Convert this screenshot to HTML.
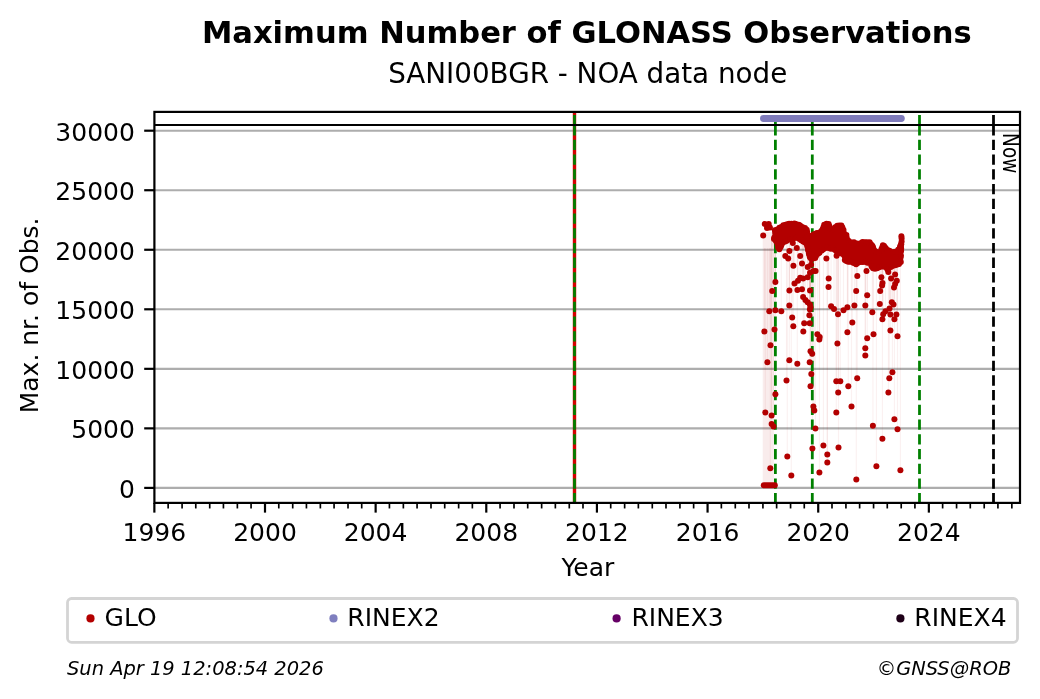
<!DOCTYPE html>
<html><head><meta charset="utf-8"><title>Maximum Number of GLONASS Observations</title>
<style>html,body{margin:0;padding:0;background:#fff;width:1040px;height:699px;overflow:hidden}svg{display:block;will-change:transform}</style>
</head><body>
<svg width="1040" height="699" viewBox="0 0 1040 699">
<rect x="0" y="0" width="1040" height="699" fill="#ffffff"/>
<defs><clipPath id="ax"><rect x="154.4" y="111.9" width="865.6" height="391.0"/></clipPath></defs>
<line x1="154.4" y1="487.90" x2="1020.0" y2="487.90" stroke="#adadad" stroke-width="2.1"/>
<line x1="154.4" y1="428.37" x2="1020.0" y2="428.37" stroke="#adadad" stroke-width="2.1"/>
<line x1="154.4" y1="368.83" x2="1020.0" y2="368.83" stroke="#adadad" stroke-width="2.1"/>
<line x1="154.4" y1="309.29" x2="1020.0" y2="309.29" stroke="#adadad" stroke-width="2.1"/>
<line x1="154.4" y1="249.76" x2="1020.0" y2="249.76" stroke="#adadad" stroke-width="2.1"/>
<line x1="154.4" y1="190.23" x2="1020.0" y2="190.23" stroke="#adadad" stroke-width="2.1"/>
<line x1="154.4" y1="130.69" x2="1020.0" y2="130.69" stroke="#adadad" stroke-width="2.1"/>
<g clip-path="url(#ax)">
<line x1="793.4" y1="239.6" x2="793.4" y2="265.8" stroke="#b30000" stroke-opacity="0.055" stroke-width="1.2"/>
<line x1="802" y1="242.1" x2="802" y2="263.5" stroke="#b30000" stroke-opacity="0.055" stroke-width="1.2"/>
<line x1="807.7" y1="259.2" x2="807.7" y2="267" stroke="#b30000" stroke-opacity="0.055" stroke-width="1.2"/>
<line x1="810" y1="259.8" x2="810" y2="272.7" stroke="#b30000" stroke-opacity="0.055" stroke-width="1.2"/>
<line x1="813.4" y1="259.9" x2="813.4" y2="271" stroke="#b30000" stroke-opacity="0.055" stroke-width="1.2"/>
<line x1="800.2" y1="241.2" x2="800.2" y2="277.8" stroke="#b30000" stroke-opacity="0.055" stroke-width="1.2"/>
<line x1="803.1" y1="242.6" x2="803.1" y2="278.4" stroke="#b30000" stroke-opacity="0.055" stroke-width="1.2"/>
<line x1="807.7" y1="259.2" x2="807.7" y2="277.3" stroke="#b30000" stroke-opacity="0.055" stroke-width="1.2"/>
<line x1="798" y1="239.8" x2="798" y2="280.7" stroke="#b30000" stroke-opacity="0.055" stroke-width="1.2"/>
<line x1="794.5" y1="239.2" x2="794.5" y2="283.6" stroke="#b30000" stroke-opacity="0.055" stroke-width="1.2"/>
<line x1="775.4" y1="246.8" x2="775.4" y2="282.1" stroke="#b30000" stroke-opacity="0.055" stroke-width="1.2"/>
<line x1="772.2" y1="239.8" x2="772.2" y2="291" stroke="#b30000" stroke-opacity="0.055" stroke-width="1.2"/>
<line x1="789.4" y1="239.8" x2="789.4" y2="290.4" stroke="#b30000" stroke-opacity="0.055" stroke-width="1.2"/>
<line x1="797.4" y1="239.4" x2="797.4" y2="289.9" stroke="#b30000" stroke-opacity="0.055" stroke-width="1.2"/>
<line x1="802" y1="242.1" x2="802" y2="289.3" stroke="#b30000" stroke-opacity="0.055" stroke-width="1.2"/>
<line x1="810" y1="259.8" x2="810" y2="290.4" stroke="#b30000" stroke-opacity="0.055" stroke-width="1.2"/>
<line x1="815.6" y1="258.6" x2="815.6" y2="270.9" stroke="#b30000" stroke-opacity="0.055" stroke-width="1.2"/>
<line x1="828.7" y1="248.9" x2="828.7" y2="278.4" stroke="#b30000" stroke-opacity="0.055" stroke-width="1.2"/>
<line x1="828.5" y1="248.7" x2="828.5" y2="287.0" stroke="#b30000" stroke-opacity="0.055" stroke-width="1.2"/>
<line x1="857.3" y1="265.2" x2="857.3" y2="276.1" stroke="#b30000" stroke-opacity="0.055" stroke-width="1.2"/>
<line x1="866.5" y1="263.2" x2="866.5" y2="270.9" stroke="#b30000" stroke-opacity="0.055" stroke-width="1.2"/>
<line x1="881.4" y1="267.8" x2="881.4" y2="277.2" stroke="#b30000" stroke-opacity="0.055" stroke-width="1.2"/>
<line x1="882.5" y1="267.5" x2="882.5" y2="283.0" stroke="#b30000" stroke-opacity="0.055" stroke-width="1.2"/>
<line x1="895.1" y1="266.1" x2="895.1" y2="274.4" stroke="#b30000" stroke-opacity="0.055" stroke-width="1.2"/>
<line x1="891.1" y1="268.3" x2="891.1" y2="278.4" stroke="#b30000" stroke-opacity="0.055" stroke-width="1.2"/>
<line x1="896.8" y1="265.7" x2="896.8" y2="280.7" stroke="#b30000" stroke-opacity="0.055" stroke-width="1.2"/>
<line x1="895.1" y1="266.1" x2="895.1" y2="284.1" stroke="#b30000" stroke-opacity="0.055" stroke-width="1.2"/>
<line x1="894.0" y1="266.6" x2="894.0" y2="287.5" stroke="#b30000" stroke-opacity="0.055" stroke-width="1.2"/>
<line x1="856.2" y1="266.5" x2="856.2" y2="291.0" stroke="#b30000" stroke-opacity="0.055" stroke-width="1.2"/>
<line x1="880.2" y1="268.1" x2="880.2" y2="291.0" stroke="#b30000" stroke-opacity="0.055" stroke-width="1.2"/>
<line x1="803.1" y1="242.6" x2="803.1" y2="297.0" stroke="#b30000" stroke-opacity="0.055" stroke-width="1.2"/>
<line x1="805.4" y1="250.0" x2="805.4" y2="299.9" stroke="#b30000" stroke-opacity="0.055" stroke-width="1.2"/>
<line x1="807.6" y1="258.8" x2="807.6" y2="302.2" stroke="#b30000" stroke-opacity="0.055" stroke-width="1.2"/>
<line x1="809.9" y1="259.8" x2="809.9" y2="304.5" stroke="#b30000" stroke-opacity="0.055" stroke-width="1.2"/>
<line x1="810.5" y1="259.9" x2="810.5" y2="307.3" stroke="#b30000" stroke-opacity="0.055" stroke-width="1.2"/>
<line x1="809.9" y1="259.8" x2="809.9" y2="309.6" stroke="#b30000" stroke-opacity="0.055" stroke-width="1.2"/>
<line x1="809.4" y1="259.6" x2="809.4" y2="315.3" stroke="#b30000" stroke-opacity="0.055" stroke-width="1.2"/>
<line x1="789.3" y1="239.9" x2="789.3" y2="305.4" stroke="#b30000" stroke-opacity="0.055" stroke-width="1.2"/>
<line x1="769.3" y1="248" x2="769.3" y2="311.3" stroke="#b30000" stroke-opacity="0.055" stroke-width="1.2"/>
<line x1="775.4" y1="246.8" x2="775.4" y2="310.2" stroke="#b30000" stroke-opacity="0.055" stroke-width="1.2"/>
<line x1="781.3" y1="249.3" x2="781.3" y2="311.3" stroke="#b30000" stroke-opacity="0.055" stroke-width="1.2"/>
<line x1="792.2" y1="239.8" x2="792.2" y2="317.4" stroke="#b30000" stroke-opacity="0.055" stroke-width="1.2"/>
<line x1="804.2" y1="243.2" x2="804.2" y2="323.3" stroke="#b30000" stroke-opacity="0.055" stroke-width="1.2"/>
<line x1="809.7" y1="259.7" x2="809.7" y2="323.3" stroke="#b30000" stroke-opacity="0.055" stroke-width="1.2"/>
<line x1="793.3" y1="239.6" x2="793.3" y2="326.2" stroke="#b30000" stroke-opacity="0.055" stroke-width="1.2"/>
<line x1="774.5" y1="242.1" x2="774.5" y2="329.4" stroke="#b30000" stroke-opacity="0.055" stroke-width="1.2"/>
<line x1="764.4" y1="248" x2="764.4" y2="331.4" stroke="#b30000" stroke-opacity="0.055" stroke-width="1.2"/>
<line x1="803.3" y1="242.7" x2="803.3" y2="331.4" stroke="#b30000" stroke-opacity="0.055" stroke-width="1.2"/>
<line x1="817.4" y1="256.8" x2="817.4" y2="334.2" stroke="#b30000" stroke-opacity="0.055" stroke-width="1.2"/>
<line x1="819.7" y1="254.5" x2="819.7" y2="337.1" stroke="#b30000" stroke-opacity="0.055" stroke-width="1.2"/>
<line x1="819.3" y1="254.9" x2="819.3" y2="339.4" stroke="#b30000" stroke-opacity="0.055" stroke-width="1.2"/>
<line x1="770.5" y1="248" x2="770.5" y2="345.3" stroke="#b30000" stroke-opacity="0.055" stroke-width="1.2"/>
<line x1="810.5" y1="259.9" x2="810.5" y2="351.2" stroke="#b30000" stroke-opacity="0.055" stroke-width="1.2"/>
<line x1="812.2" y1="260.4" x2="812.2" y2="353.7" stroke="#b30000" stroke-opacity="0.055" stroke-width="1.2"/>
<line x1="767.4" y1="248" x2="767.4" y2="362.3" stroke="#b30000" stroke-opacity="0.055" stroke-width="1.2"/>
<line x1="789.3" y1="239.9" x2="789.3" y2="360.3" stroke="#b30000" stroke-opacity="0.055" stroke-width="1.2"/>
<line x1="797.3" y1="239.3" x2="797.3" y2="363.7" stroke="#b30000" stroke-opacity="0.055" stroke-width="1.2"/>
<line x1="809.7" y1="259.7" x2="809.7" y2="362.3" stroke="#b30000" stroke-opacity="0.055" stroke-width="1.2"/>
<line x1="831.1" y1="250.1" x2="831.1" y2="306.2" stroke="#b30000" stroke-opacity="0.055" stroke-width="1.2"/>
<line x1="834.0" y1="251.0" x2="834.0" y2="309.0" stroke="#b30000" stroke-opacity="0.055" stroke-width="1.2"/>
<line x1="867.2" y1="263.4" x2="867.2" y2="295.3" stroke="#b30000" stroke-opacity="0.055" stroke-width="1.2"/>
<line x1="882.1" y1="267.6" x2="882.1" y2="285.5" stroke="#b30000" stroke-opacity="0.055" stroke-width="1.2"/>
<line x1="838.0" y1="254.1" x2="838.0" y2="314.2" stroke="#b30000" stroke-opacity="0.055" stroke-width="1.2"/>
<line x1="843.5" y1="261.4" x2="843.5" y2="310.2" stroke="#b30000" stroke-opacity="0.055" stroke-width="1.2"/>
<line x1="847.4" y1="262.2" x2="847.4" y2="307.3" stroke="#b30000" stroke-opacity="0.055" stroke-width="1.2"/>
<line x1="854.4" y1="265.7" x2="854.4" y2="305.4" stroke="#b30000" stroke-opacity="0.055" stroke-width="1.2"/>
<line x1="865.3" y1="262.9" x2="865.3" y2="305.4" stroke="#b30000" stroke-opacity="0.055" stroke-width="1.2"/>
<line x1="872.3" y1="269.1" x2="872.3" y2="312.2" stroke="#b30000" stroke-opacity="0.055" stroke-width="1.2"/>
<line x1="879.8" y1="268.2" x2="879.8" y2="303.9" stroke="#b30000" stroke-opacity="0.055" stroke-width="1.2"/>
<line x1="891.8" y1="267.9" x2="891.8" y2="302.2" stroke="#b30000" stroke-opacity="0.055" stroke-width="1.2"/>
<line x1="893.5" y1="266.9" x2="893.5" y2="304.5" stroke="#b30000" stroke-opacity="0.055" stroke-width="1.2"/>
<line x1="889.5" y1="269.4" x2="889.5" y2="308.5" stroke="#b30000" stroke-opacity="0.055" stroke-width="1.2"/>
<line x1="885.5" y1="270.8" x2="885.5" y2="311.3" stroke="#b30000" stroke-opacity="0.055" stroke-width="1.2"/>
<line x1="883.2" y1="267.3" x2="883.2" y2="314.2" stroke="#b30000" stroke-opacity="0.055" stroke-width="1.2"/>
<line x1="890.4" y1="268.8" x2="890.4" y2="314.5" stroke="#b30000" stroke-opacity="0.055" stroke-width="1.2"/>
<line x1="896.4" y1="265.8" x2="896.4" y2="314.5" stroke="#b30000" stroke-opacity="0.055" stroke-width="1.2"/>
<line x1="882.4" y1="267.5" x2="882.4" y2="319.3" stroke="#b30000" stroke-opacity="0.055" stroke-width="1.2"/>
<line x1="894.4" y1="266.4" x2="894.4" y2="319.3" stroke="#b30000" stroke-opacity="0.055" stroke-width="1.2"/>
<line x1="852.3" y1="263.6" x2="852.3" y2="322.5" stroke="#b30000" stroke-opacity="0.055" stroke-width="1.2"/>
<line x1="847.4" y1="262.2" x2="847.4" y2="332.3" stroke="#b30000" stroke-opacity="0.055" stroke-width="1.2"/>
<line x1="890.4" y1="268.8" x2="890.4" y2="330.4" stroke="#b30000" stroke-opacity="0.055" stroke-width="1.2"/>
<line x1="873.5" y1="269.5" x2="873.5" y2="334.2" stroke="#b30000" stroke-opacity="0.055" stroke-width="1.2"/>
<line x1="897.5" y1="265.5" x2="897.5" y2="336.3" stroke="#b30000" stroke-opacity="0.055" stroke-width="1.2"/>
<line x1="867.2" y1="263.4" x2="867.2" y2="338.2" stroke="#b30000" stroke-opacity="0.055" stroke-width="1.2"/>
<line x1="837.4" y1="254.3" x2="837.4" y2="343.4" stroke="#b30000" stroke-opacity="0.055" stroke-width="1.2"/>
<line x1="865.3" y1="262.9" x2="865.3" y2="348.3" stroke="#b30000" stroke-opacity="0.055" stroke-width="1.2"/>
<line x1="865.3" y1="262.9" x2="865.3" y2="355.4" stroke="#b30000" stroke-opacity="0.055" stroke-width="1.2"/>
<line x1="811.3" y1="260.1" x2="811.3" y2="374.0" stroke="#b30000" stroke-opacity="0.055" stroke-width="1.2"/>
<line x1="786.5" y1="241.7" x2="786.5" y2="380.4" stroke="#b30000" stroke-opacity="0.055" stroke-width="1.2"/>
<line x1="810.5" y1="259.9" x2="810.5" y2="386.3" stroke="#b30000" stroke-opacity="0.055" stroke-width="1.2"/>
<line x1="775.4" y1="246.8" x2="775.4" y2="394.3" stroke="#b30000" stroke-opacity="0.055" stroke-width="1.2"/>
<line x1="813.4" y1="259.9" x2="813.4" y2="406.4" stroke="#b30000" stroke-opacity="0.055" stroke-width="1.2"/>
<line x1="814.3" y1="259.5" x2="814.3" y2="410.4" stroke="#b30000" stroke-opacity="0.055" stroke-width="1.2"/>
<line x1="765.3" y1="248" x2="765.3" y2="412.4" stroke="#b30000" stroke-opacity="0.055" stroke-width="1.2"/>
<line x1="771.6" y1="238.1" x2="771.6" y2="415.5" stroke="#b30000" stroke-opacity="0.055" stroke-width="1.2"/>
<line x1="771.6" y1="238.1" x2="771.6" y2="424.1" stroke="#b30000" stroke-opacity="0.055" stroke-width="1.2"/>
<line x1="773.5" y1="241.1" x2="773.5" y2="426.4" stroke="#b30000" stroke-opacity="0.055" stroke-width="1.2"/>
<line x1="815.4" y1="258.8" x2="815.4" y2="428.4" stroke="#b30000" stroke-opacity="0.055" stroke-width="1.2"/>
<line x1="836.3" y1="254.1" x2="836.3" y2="381.2" stroke="#b30000" stroke-opacity="0.055" stroke-width="1.2"/>
<line x1="840.3" y1="254.1" x2="840.3" y2="381.2" stroke="#b30000" stroke-opacity="0.055" stroke-width="1.2"/>
<line x1="838.2" y1="254.0" x2="838.2" y2="392.4" stroke="#b30000" stroke-opacity="0.055" stroke-width="1.2"/>
<line x1="848.3" y1="262.4" x2="848.3" y2="386.3" stroke="#b30000" stroke-opacity="0.055" stroke-width="1.2"/>
<line x1="857.2" y1="265.3" x2="857.2" y2="378.3" stroke="#b30000" stroke-opacity="0.055" stroke-width="1.2"/>
<line x1="851.5" y1="263.4" x2="851.5" y2="406.4" stroke="#b30000" stroke-opacity="0.055" stroke-width="1.2"/>
<line x1="836.3" y1="254.1" x2="836.3" y2="412.4" stroke="#b30000" stroke-opacity="0.055" stroke-width="1.2"/>
<line x1="892.4" y1="267.5" x2="892.4" y2="372.2" stroke="#b30000" stroke-opacity="0.055" stroke-width="1.2"/>
<line x1="889.3" y1="269.6" x2="889.3" y2="378.3" stroke="#b30000" stroke-opacity="0.055" stroke-width="1.2"/>
<line x1="888.4" y1="270.2" x2="888.4" y2="392.4" stroke="#b30000" stroke-opacity="0.055" stroke-width="1.2"/>
<line x1="894.4" y1="266.4" x2="894.4" y2="419.3" stroke="#b30000" stroke-opacity="0.055" stroke-width="1.2"/>
<line x1="872.9" y1="269.3" x2="872.9" y2="425.8" stroke="#b30000" stroke-opacity="0.055" stroke-width="1.2"/>
<line x1="897.5" y1="265.5" x2="897.5" y2="429.2" stroke="#b30000" stroke-opacity="0.055" stroke-width="1.2"/>
<line x1="882.4" y1="267.5" x2="882.4" y2="438.7" stroke="#b30000" stroke-opacity="0.055" stroke-width="1.2"/>
<line x1="823.4" y1="251.1" x2="823.4" y2="445.5" stroke="#b30000" stroke-opacity="0.055" stroke-width="1.2"/>
<line x1="812.4" y1="260.4" x2="812.4" y2="448.5" stroke="#b30000" stroke-opacity="0.055" stroke-width="1.2"/>
<line x1="827.3" y1="248.0" x2="827.3" y2="454.5" stroke="#b30000" stroke-opacity="0.055" stroke-width="1.2"/>
<line x1="827.3" y1="248.0" x2="827.3" y2="462.5" stroke="#b30000" stroke-opacity="0.055" stroke-width="1.2"/>
<line x1="787.3" y1="241.2" x2="787.3" y2="456.5" stroke="#b30000" stroke-opacity="0.055" stroke-width="1.2"/>
<line x1="770.3" y1="248" x2="770.3" y2="468.3" stroke="#b30000" stroke-opacity="0.055" stroke-width="1.2"/>
<line x1="791.3" y1="239.8" x2="791.3" y2="475.4" stroke="#b30000" stroke-opacity="0.055" stroke-width="1.2"/>
<line x1="819.4" y1="254.8" x2="819.4" y2="472.4" stroke="#b30000" stroke-opacity="0.055" stroke-width="1.2"/>
<line x1="838.5" y1="253.9" x2="838.5" y2="447.5" stroke="#b30000" stroke-opacity="0.055" stroke-width="1.2"/>
<line x1="856.3" y1="266.4" x2="856.3" y2="479.4" stroke="#b30000" stroke-opacity="0.055" stroke-width="1.2"/>
<line x1="876.4" y1="269.8" x2="876.4" y2="466.3" stroke="#b30000" stroke-opacity="0.055" stroke-width="1.2"/>
<line x1="900.4" y1="264.4" x2="900.4" y2="470.3" stroke="#b30000" stroke-opacity="0.055" stroke-width="1.2"/>
<rect x="762.7" y="232" width="11.2" height="253" fill="#b30000" fill-opacity="0.075"/>
<line x1="574.5" y1="111.9" x2="574.5" y2="502.9" stroke="#d40000" stroke-width="3.4"/>
<line x1="574.5" y1="503.4" x2="574.5" y2="124.9" stroke="#008000" stroke-width="2.78" stroke-dasharray="10.28 4.44"/>
<line x1="574.5" y1="115" x2="574.5" y2="125.3" stroke="#008000" stroke-width="2.78"/>
<line x1="775.4" y1="503.4" x2="775.4" y2="124.9" stroke="#008000" stroke-width="2.78" stroke-dasharray="10.28 4.44"/>
<line x1="775.4" y1="115" x2="775.4" y2="125.3" stroke="#008000" stroke-width="2.78"/>
<line x1="812.3" y1="503.4" x2="812.3" y2="124.9" stroke="#008000" stroke-width="2.78" stroke-dasharray="10.28 4.44"/>
<line x1="812.3" y1="115" x2="812.3" y2="125.3" stroke="#008000" stroke-width="2.78"/>
<line x1="919.5" y1="503.4" x2="919.5" y2="124.9" stroke="#008000" stroke-width="2.78" stroke-dasharray="10.28 4.44"/>
<line x1="919.5" y1="115" x2="919.5" y2="125.3" stroke="#008000" stroke-width="2.78"/>
<line x1="993.5" y1="503.4" x2="993.5" y2="124.9" stroke="#000000" stroke-width="2.78" stroke-dasharray="10.28 4.44"/>
<line x1="993.5" y1="115" x2="993.5" y2="125.3" stroke="#000000" stroke-width="2.78"/>
<path d="M775.1,230.3 L775.5,234.7 L775.5,234.9 L775.5,235.2 L775.5,235.4 L775.4,235.7 L775.3,235.9 L775.2,236.2 L774.0,238.5 L774.6,240.3 L776.5,242.1 L776.7,242.3 L776.8,242.5 L777.0,242.8 L777.1,243.0 L777.2,243.3 L777.2,243.6 L778.1,248.1 L779.4,249.0 L780.1,248.7 L780.9,245.7 L781.0,245.5 L781.0,245.3 L781.2,245.0 L781.3,244.8 L781.4,244.6 L781.6,244.4 L783.9,242.1 L784.1,241.9 L784.4,241.8 L787.9,239.5 L788.1,239.3 L788.3,239.2 L788.6,239.1 L788.9,239.1 L789.1,239.0 L789.4,239.0 L792.3,239.0 L795.3,238.0 L795.5,237.9 L795.8,237.8 L796.1,237.8 L796.4,237.8 L796.7,237.8 L797.0,237.9 L797.2,238.0 L797.5,238.1 L797.7,238.3 L801.1,240.5 L805.5,242.7 L805.7,242.9 L806.0,243.0 L806.2,243.2 L806.4,243.4 L806.5,243.7 L806.7,243.9 L806.8,244.2 L806.9,244.4 L807.0,244.7 L808.1,251.4 L810.0,258.9 L812.1,259.4 L813.4,258.9 L815.3,256.9 L819.9,252.3 L820.2,252.1 L825.9,247.6 L826.1,247.4 L826.3,247.3 L826.6,247.2 L826.8,247.1 L827.1,247.0 L827.4,247.0 L827.6,247.0 L827.9,247.0 L828.2,247.1 L828.4,247.1 L828.7,247.2 L828.9,247.3 L829.2,247.5 L829.4,247.6 L829.6,247.8 L831.1,249.3 L833.3,249.3 L833.6,249.3 L833.9,249.4 L834.1,249.4 L834.4,249.5 L834.7,249.7 L834.9,249.8 L835.1,250.0 L835.3,250.2 L835.5,250.4 L837.7,253.2 L838.6,252.9 L838.9,252.8 L839.1,252.7 L839.4,252.7 L839.6,252.7 L839.9,252.7 L840.2,252.8 L840.4,252.8 L840.7,252.9 L840.9,253.0 L841.1,253.2 L841.3,253.3 L844.2,255.6 L844.4,255.8 L844.6,256.0 L844.8,256.2 L844.9,256.4 L845.1,256.6 L845.2,256.9 L845.2,257.2 L845.3,257.4 L845.3,257.7 L845.3,257.9 L845.3,258.2 L845.2,258.5 L845.1,258.7 L844.5,260.5 L845.0,260.9 L849.8,261.9 L850.2,262.0 L853.7,263.2 L853.9,263.2 L854.2,263.4 L854.4,263.5 L854.6,263.7 L854.8,263.8 L855.0,264.0 L855.6,264.8 L856.4,264.0 L856.5,263.8 L856.7,263.6 L857.0,263.5 L857.2,263.3 L857.4,263.2 L857.7,263.1 L857.9,263.1 L863.6,261.9 L863.9,261.8 L864.1,261.8 L864.4,261.8 L864.7,261.8 L864.9,261.9 L869.5,263.1 L869.8,263.2 L870.0,263.3 L870.3,263.4 L870.5,263.6 L870.7,263.7 L870.9,263.9 L871.1,264.2 L871.2,264.4 L871.3,264.6 L871.4,264.9 L871.5,265.1 L872.2,268.2 L875.4,269.1 L877.8,267.9 L878.1,267.8 L878.4,267.7 L883.0,266.5 L883.3,266.4 L883.5,266.4 L883.8,266.4 L884.1,266.4 L884.3,266.5 L884.6,266.5 L884.9,266.7 L885.1,266.8 L885.3,266.9 L885.5,267.1 L885.7,267.3 L885.9,267.5 L886.1,267.7 L886.2,267.9 L887.1,269.7 L891.2,266.9 L891.4,266.8 L891.6,266.7 L893.9,265.6 L894.1,265.5 L894.4,265.4 L898.5,264.3 L900.3,263.1 L900.9,246.2 L901.0,244.0 L900.1,247.5 L900.0,247.8 L899.9,248.1 L899.8,248.3 L899.7,248.6 L899.5,248.8 L899.3,249.0 L899.1,249.2 L896.8,250.9 L896.5,251.0 L896.3,251.2 L896.0,251.3 L895.7,251.3 L895.4,251.4 L895.1,251.4 L890.5,251.4 L890.2,251.4 L890.0,251.3 L889.7,251.3 L889.4,251.2 L889.2,251.1 L888.9,250.9 L888.7,250.8 L885.9,248.5 L885.7,248.3 L885.6,248.1 L885.4,247.9 L885.3,247.7 L883.6,244.8 L882.7,246.5 L880.5,251.0 L880.4,251.2 L880.2,251.5 L880.1,251.7 L879.9,251.9 L879.7,252.0 L879.4,252.2 L879.2,252.3 L879.0,252.4 L878.7,252.5 L878.4,252.6 L878.2,252.6 L877.9,252.6 L877.6,252.6 L877.4,252.5 L877.1,252.4 L876.8,252.3 L876.6,252.2 L876.4,252.1 L876.2,251.9 L876.0,251.7 L875.8,251.5 L875.6,251.3 L872.7,246.7 L872.7,246.6 L870.4,242.5 L866.4,241.7 L862.5,242.2 L859.4,243.3 L859.1,243.3 L858.9,243.4 L858.6,243.4 L858.4,243.4 L858.1,243.4 L853.5,242.8 L853.2,242.7 L852.9,242.6 L848.9,241.1 L848.7,241.0 L848.4,240.9 L848.2,240.7 L848.0,240.6 L847.8,240.4 L847.7,240.2 L847.5,240.0 L847.4,239.7 L847.3,239.5 L847.2,239.3 L846.0,235.1 L844.2,233.4 L844.0,233.2 L843.8,233.0 L843.6,232.8 L843.5,232.6 L843.4,232.3 L843.3,232.1 L843.3,231.8 L843.2,231.6 L842.7,226.4 L840.7,225.4 L837.6,225.6 L836.0,226.6 L835.2,228.2 L835.0,228.4 L834.9,228.7 L834.7,228.9 L834.5,229.1 L834.3,229.2 L834.0,229.4 L833.8,229.5 L833.5,229.6 L833.2,229.7 L832.9,229.7 L832.7,229.7 L832.4,229.7 L832.1,229.6 L831.8,229.6 L831.6,229.5 L831.3,229.3 L831.1,229.2 L830.9,229.0 L830.7,228.8 L830.5,228.6 L830.3,228.4 L830.2,228.1 L830.1,227.9 L828.8,224.3 L827.2,223.5 L825.5,223.8 L824.3,225.0 L822.2,230.2 L822.1,230.5 L822.0,230.7 L821.8,230.9 L821.6,231.1 L821.5,231.3 L821.3,231.5 L821.0,231.6 L820.8,231.7 L820.6,231.8 L816.0,233.5 L815.6,233.6 L813.5,234.1 L811.7,235.5 L811.4,235.6 L811.2,235.7 L810.9,235.8 L810.7,235.9 L810.4,236.0 L810.1,236.0 L809.8,236.0 L809.6,236.0 L809.3,235.9 L809.0,235.8 L808.8,235.7 L808.5,235.6 L808.3,235.4 L808.1,235.3 L807.9,235.1 L807.7,234.8 L807.6,234.6 L807.5,234.4 L807.3,234.1 L807.3,233.8 L807.2,233.6 L806.7,229.9 L804.9,228.0 L800.8,226.1 L796.5,224.4 L792.5,223.4 L788.6,223.4 L785.9,224.3 L782.7,225.9 L779.4,228.1 L779.1,228.2 L778.8,228.3 L776.0,229.3 L775.1,230.3 Z " fill="#b30000" stroke="none"/>
<circle cx="774.8" cy="230.3" r="3.0" fill="#b30000"/>
<circle cx="775.2" cy="232.7" r="3.0" fill="#b30000"/>
<circle cx="775.6" cy="234.4" r="3.0" fill="#b30000"/>
<circle cx="774.3" cy="237.4" r="3.0" fill="#b30000"/>
<circle cx="774.0" cy="238.9" r="3.0" fill="#b30000"/>
<circle cx="775.9" cy="241.0" r="3.0" fill="#b30000"/>
<circle cx="777.3" cy="242.7" r="3.0" fill="#b30000"/>
<circle cx="777.7" cy="244.6" r="3.0" fill="#b30000"/>
<circle cx="778.1" cy="247.6" r="3.0" fill="#b30000"/>
<circle cx="779.3" cy="249.2" r="3.0" fill="#b30000"/>
<circle cx="780.6" cy="247.0" r="3.0" fill="#b30000"/>
<circle cx="781.3" cy="245.3" r="3.0" fill="#b30000"/>
<circle cx="782.4" cy="243.0" r="3.0" fill="#b30000"/>
<circle cx="784.6" cy="241.8" r="3.0" fill="#b30000"/>
<circle cx="786.4" cy="240.9" r="3.0" fill="#b30000"/>
<circle cx="788.3" cy="239.7" r="3.0" fill="#b30000"/>
<circle cx="790.3" cy="239.3" r="3.0" fill="#b30000"/>
<circle cx="792.6" cy="239.3" r="3.0" fill="#b30000"/>
<circle cx="795.2" cy="237.7" r="3.0" fill="#b30000"/>
<circle cx="796.7" cy="237.7" r="3.0" fill="#b30000"/>
<circle cx="799.5" cy="239.1" r="3.0" fill="#b30000"/>
<circle cx="801.1" cy="240.2" r="3.0" fill="#b30000"/>
<circle cx="803.1" cy="241.4" r="3.0" fill="#b30000"/>
<circle cx="805.0" cy="242.6" r="3.0" fill="#b30000"/>
<circle cx="806.8" cy="244.5" r="3.0" fill="#b30000"/>
<circle cx="807.4" cy="246.7" r="3.0" fill="#b30000"/>
<circle cx="808.0" cy="249.1" r="3.0" fill="#b30000"/>
<circle cx="808.2" cy="250.5" r="3.0" fill="#b30000"/>
<circle cx="808.9" cy="253.6" r="3.0" fill="#b30000"/>
<circle cx="809.5" cy="255.4" r="3.0" fill="#b30000"/>
<circle cx="809.9" cy="257.3" r="3.0" fill="#b30000"/>
<circle cx="811.3" cy="259.2" r="3.0" fill="#b30000"/>
<circle cx="812.9" cy="258.5" r="3.0" fill="#b30000"/>
<circle cx="815.2" cy="257.9" r="3.0" fill="#b30000"/>
<circle cx="816.0" cy="256.1" r="3.0" fill="#b30000"/>
<circle cx="818.0" cy="253.8" r="3.0" fill="#b30000"/>
<circle cx="819.5" cy="252.8" r="3.0" fill="#b30000"/>
<circle cx="821.8" cy="250.6" r="3.0" fill="#b30000"/>
<circle cx="823.4" cy="249.2" r="3.0" fill="#b30000"/>
<circle cx="825.3" cy="248.0" r="3.0" fill="#b30000"/>
<circle cx="827.4" cy="247.5" r="3.0" fill="#b30000"/>
<circle cx="829.3" cy="248.0" r="3.0" fill="#b30000"/>
<circle cx="830.7" cy="248.7" r="3.0" fill="#b30000"/>
<circle cx="833.3" cy="248.8" r="3.0" fill="#b30000"/>
<circle cx="835.0" cy="250.0" r="3.0" fill="#b30000"/>
<circle cx="836.8" cy="251.6" r="3.0" fill="#b30000"/>
<circle cx="837.8" cy="253.4" r="3.0" fill="#b30000"/>
<circle cx="840.3" cy="253.3" r="3.0" fill="#b30000"/>
<circle cx="842.8" cy="254.0" r="3.0" fill="#b30000"/>
<circle cx="844.2" cy="255.6" r="3.0" fill="#b30000"/>
<circle cx="845.4" cy="257.7" r="3.0" fill="#b30000"/>
<circle cx="844.8" cy="259.9" r="3.0" fill="#b30000"/>
<circle cx="846.4" cy="261.1" r="3.0" fill="#b30000"/>
<circle cx="848.1" cy="261.8" r="3.0" fill="#b30000"/>
<circle cx="850.2" cy="261.8" r="3.0" fill="#b30000"/>
<circle cx="853.1" cy="262.8" r="3.0" fill="#b30000"/>
<circle cx="854.8" cy="263.3" r="3.0" fill="#b30000"/>
<circle cx="856.1" cy="264.3" r="3.0" fill="#b30000"/>
<circle cx="857.7" cy="263.1" r="3.0" fill="#b30000"/>
<circle cx="860.5" cy="262.1" r="3.0" fill="#b30000"/>
<circle cx="862.8" cy="262.0" r="3.0" fill="#b30000"/>
<circle cx="865.1" cy="261.8" r="3.0" fill="#b30000"/>
<circle cx="867.4" cy="262.7" r="3.0" fill="#b30000"/>
<circle cx="868.9" cy="262.6" r="3.0" fill="#b30000"/>
<circle cx="871.4" cy="264.9" r="3.0" fill="#b30000"/>
<circle cx="871.6" cy="266.6" r="3.0" fill="#b30000"/>
<circle cx="873.0" cy="268.2" r="3.0" fill="#b30000"/>
<circle cx="875.0" cy="268.8" r="3.0" fill="#b30000"/>
<circle cx="877.1" cy="268.3" r="3.0" fill="#b30000"/>
<circle cx="879.2" cy="267.3" r="3.0" fill="#b30000"/>
<circle cx="881.9" cy="266.4" r="3.0" fill="#b30000"/>
<circle cx="883.9" cy="266.6" r="3.0" fill="#b30000"/>
<circle cx="885.7" cy="267.1" r="3.0" fill="#b30000"/>
<circle cx="887.3" cy="269.2" r="3.0" fill="#b30000"/>
<circle cx="888.5" cy="268.5" r="3.0" fill="#b30000"/>
<circle cx="890.9" cy="266.9" r="3.0" fill="#b30000"/>
<circle cx="892.5" cy="266.0" r="3.0" fill="#b30000"/>
<circle cx="895.2" cy="265.2" r="3.0" fill="#b30000"/>
<circle cx="897.4" cy="264.4" r="3.0" fill="#b30000"/>
<circle cx="899.0" cy="264.0" r="3.0" fill="#b30000"/>
<circle cx="900.8" cy="262.1" r="3.0" fill="#b30000"/>
<circle cx="900.2" cy="259.5" r="3.0" fill="#b30000"/>
<circle cx="900.6" cy="257.2" r="3.0" fill="#b30000"/>
<circle cx="900.9" cy="255.6" r="3.0" fill="#b30000"/>
<circle cx="900.4" cy="252.7" r="3.0" fill="#b30000"/>
<circle cx="901.1" cy="250.8" r="3.0" fill="#b30000"/>
<circle cx="901.1" cy="248.2" r="3.0" fill="#b30000"/>
<circle cx="900.5" cy="245.8" r="3.0" fill="#b30000"/>
<circle cx="901.2" cy="244.0" r="3.0" fill="#b30000"/>
<circle cx="900.2" cy="246.4" r="3.0" fill="#b30000"/>
<circle cx="899.5" cy="248.5" r="3.0" fill="#b30000"/>
<circle cx="898.2" cy="249.7" r="3.0" fill="#b30000"/>
<circle cx="895.4" cy="251.7" r="3.0" fill="#b30000"/>
<circle cx="894.0" cy="251.9" r="3.0" fill="#b30000"/>
<circle cx="891.2" cy="251.9" r="3.0" fill="#b30000"/>
<circle cx="889.5" cy="250.7" r="3.0" fill="#b30000"/>
<circle cx="887.5" cy="249.9" r="3.0" fill="#b30000"/>
<circle cx="885.7" cy="248.0" r="3.0" fill="#b30000"/>
<circle cx="884.1" cy="245.9" r="3.0" fill="#b30000"/>
<circle cx="882.9" cy="245.2" r="3.0" fill="#b30000"/>
<circle cx="882.2" cy="247.5" r="3.0" fill="#b30000"/>
<circle cx="881.4" cy="249.3" r="3.0" fill="#b30000"/>
<circle cx="880.4" cy="252.0" r="3.0" fill="#b30000"/>
<circle cx="878.3" cy="253.0" r="3.0" fill="#b30000"/>
<circle cx="876.3" cy="251.7" r="3.0" fill="#b30000"/>
<circle cx="874.1" cy="249.9" r="3.0" fill="#b30000"/>
<circle cx="873.1" cy="247.5" r="3.0" fill="#b30000"/>
<circle cx="872.4" cy="245.8" r="3.0" fill="#b30000"/>
<circle cx="871.0" cy="244.2" r="3.0" fill="#b30000"/>
<circle cx="869.6" cy="242.2" r="3.0" fill="#b30000"/>
<circle cx="867.0" cy="242.3" r="3.0" fill="#b30000"/>
<circle cx="864.9" cy="242.2" r="3.0" fill="#b30000"/>
<circle cx="862.5" cy="241.9" r="3.0" fill="#b30000"/>
<circle cx="860.5" cy="243.2" r="3.0" fill="#b30000"/>
<circle cx="857.9" cy="243.7" r="3.0" fill="#b30000"/>
<circle cx="856.3" cy="243.4" r="3.0" fill="#b30000"/>
<circle cx="854.0" cy="242.3" r="3.0" fill="#b30000"/>
<circle cx="851.6" cy="242.4" r="3.0" fill="#b30000"/>
<circle cx="848.8" cy="241.0" r="3.0" fill="#b30000"/>
<circle cx="847.3" cy="239.9" r="3.0" fill="#b30000"/>
<circle cx="846.7" cy="237.7" r="3.0" fill="#b30000"/>
<circle cx="846.4" cy="235.0" r="3.0" fill="#b30000"/>
<circle cx="844.2" cy="233.5" r="3.0" fill="#b30000"/>
<circle cx="842.9" cy="231.6" r="3.0" fill="#b30000"/>
<circle cx="843.5" cy="230.1" r="3.0" fill="#b30000"/>
<circle cx="842.4" cy="227.4" r="3.0" fill="#b30000"/>
<circle cx="841.4" cy="225.6" r="3.0" fill="#b30000"/>
<circle cx="839.2" cy="225.6" r="3.0" fill="#b30000"/>
<circle cx="837.2" cy="225.8" r="3.0" fill="#b30000"/>
<circle cx="835.2" cy="227.3" r="3.0" fill="#b30000"/>
<circle cx="833.8" cy="229.3" r="3.0" fill="#b30000"/>
<circle cx="832.2" cy="229.5" r="3.0" fill="#b30000"/>
<circle cx="829.8" cy="227.8" r="3.0" fill="#b30000"/>
<circle cx="829.3" cy="226.1" r="3.0" fill="#b30000"/>
<circle cx="828.6" cy="224.0" r="3.0" fill="#b30000"/>
<circle cx="826.5" cy="223.8" r="3.0" fill="#b30000"/>
<circle cx="824.2" cy="224.8" r="3.0" fill="#b30000"/>
<circle cx="823.4" cy="227.3" r="3.0" fill="#b30000"/>
<circle cx="822.5" cy="229.4" r="3.0" fill="#b30000"/>
<circle cx="821.5" cy="231.0" r="3.0" fill="#b30000"/>
<circle cx="819.5" cy="232.4" r="3.0" fill="#b30000"/>
<circle cx="816.8" cy="233.0" r="3.0" fill="#b30000"/>
<circle cx="815.0" cy="234.1" r="3.0" fill="#b30000"/>
<circle cx="813.4" cy="234.4" r="3.0" fill="#b30000"/>
<circle cx="811.4" cy="236.1" r="3.0" fill="#b30000"/>
<circle cx="808.6" cy="235.7" r="3.0" fill="#b30000"/>
<circle cx="807.0" cy="234.3" r="3.0" fill="#b30000"/>
<circle cx="807.1" cy="232.1" r="3.0" fill="#b30000"/>
<circle cx="806.7" cy="229.8" r="3.0" fill="#b30000"/>
<circle cx="805.0" cy="228.0" r="3.0" fill="#b30000"/>
<circle cx="802.3" cy="227.1" r="3.0" fill="#b30000"/>
<circle cx="800.1" cy="225.6" r="3.0" fill="#b30000"/>
<circle cx="798.7" cy="224.7" r="3.0" fill="#b30000"/>
<circle cx="795.9" cy="223.9" r="3.0" fill="#b30000"/>
<circle cx="794.4" cy="223.5" r="3.0" fill="#b30000"/>
<circle cx="791.3" cy="223.7" r="3.0" fill="#b30000"/>
<circle cx="789.1" cy="223.7" r="3.0" fill="#b30000"/>
<circle cx="787.4" cy="224.2" r="3.0" fill="#b30000"/>
<circle cx="785.6" cy="224.8" r="3.0" fill="#b30000"/>
<circle cx="783.3" cy="225.3" r="3.0" fill="#b30000"/>
<circle cx="781.4" cy="227.0" r="3.0" fill="#b30000"/>
<circle cx="779.4" cy="227.8" r="3.0" fill="#b30000"/>
<circle cx="777.2" cy="229.4" r="3.0" fill="#b30000"/>
<circle cx="764.7" cy="224.0" r="3.0" fill="#b30000"/>
<circle cx="768.7" cy="224.0" r="3.0" fill="#b30000"/>
<circle cx="767.0" cy="228.0" r="3.0" fill="#b30000"/>
<circle cx="769.9" cy="227.5" r="3.0" fill="#b30000"/>
<circle cx="763.2" cy="235.5" r="3.0" fill="#b30000"/>
<circle cx="789.4" cy="250.9" r="3.0" fill="#b30000"/>
<circle cx="792.8" cy="242.9" r="3.0" fill="#b30000"/>
<circle cx="796.8" cy="248.1" r="3.0" fill="#b30000"/>
<circle cx="785.3" cy="256.1" r="3.0" fill="#b30000"/>
<circle cx="788.2" cy="258.4" r="3.0" fill="#b30000"/>
<circle cx="800.2" cy="256.1" r="3.0" fill="#b30000"/>
<circle cx="793.4" cy="265.8" r="3.0" fill="#b30000"/>
<circle cx="802.0" cy="263.5" r="3.0" fill="#b30000"/>
<circle cx="807.7" cy="267.0" r="3.0" fill="#b30000"/>
<circle cx="811.1" cy="264.7" r="3.0" fill="#b30000"/>
<circle cx="810.0" cy="272.7" r="3.0" fill="#b30000"/>
<circle cx="813.4" cy="271.0" r="3.0" fill="#b30000"/>
<circle cx="800.2" cy="277.8" r="3.0" fill="#b30000"/>
<circle cx="803.1" cy="278.4" r="3.0" fill="#b30000"/>
<circle cx="807.7" cy="277.3" r="3.0" fill="#b30000"/>
<circle cx="798.0" cy="280.7" r="3.0" fill="#b30000"/>
<circle cx="794.5" cy="283.6" r="3.0" fill="#b30000"/>
<circle cx="775.4" cy="282.1" r="3.0" fill="#b30000"/>
<circle cx="772.2" cy="291.0" r="3.0" fill="#b30000"/>
<circle cx="789.4" cy="290.4" r="3.0" fill="#b30000"/>
<circle cx="797.4" cy="289.9" r="3.0" fill="#b30000"/>
<circle cx="802.0" cy="289.3" r="3.0" fill="#b30000"/>
<circle cx="810.0" cy="290.4" r="3.0" fill="#b30000"/>
<circle cx="815.6" cy="270.9" r="3.0" fill="#b30000"/>
<circle cx="828.7" cy="278.4" r="3.0" fill="#b30000"/>
<circle cx="828.5" cy="287.0" r="3.0" fill="#b30000"/>
<circle cx="857.3" cy="276.1" r="3.0" fill="#b30000"/>
<circle cx="866.5" cy="270.9" r="3.0" fill="#b30000"/>
<circle cx="881.4" cy="277.2" r="3.0" fill="#b30000"/>
<circle cx="882.5" cy="283.0" r="3.0" fill="#b30000"/>
<circle cx="888.3" cy="272.1" r="3.0" fill="#b30000"/>
<circle cx="895.1" cy="274.4" r="3.0" fill="#b30000"/>
<circle cx="891.1" cy="278.4" r="3.0" fill="#b30000"/>
<circle cx="896.8" cy="280.7" r="3.0" fill="#b30000"/>
<circle cx="895.1" cy="284.1" r="3.0" fill="#b30000"/>
<circle cx="894.0" cy="287.5" r="3.0" fill="#b30000"/>
<circle cx="856.2" cy="291.0" r="3.0" fill="#b30000"/>
<circle cx="880.2" cy="291.0" r="3.0" fill="#b30000"/>
<circle cx="803.1" cy="297.0" r="3.0" fill="#b30000"/>
<circle cx="805.4" cy="299.9" r="3.0" fill="#b30000"/>
<circle cx="807.6" cy="302.2" r="3.0" fill="#b30000"/>
<circle cx="809.9" cy="304.5" r="3.0" fill="#b30000"/>
<circle cx="810.5" cy="307.3" r="3.0" fill="#b30000"/>
<circle cx="809.9" cy="309.6" r="3.0" fill="#b30000"/>
<circle cx="809.4" cy="315.3" r="3.0" fill="#b30000"/>
<circle cx="789.3" cy="305.4" r="3.0" fill="#b30000"/>
<circle cx="769.3" cy="311.3" r="3.0" fill="#b30000"/>
<circle cx="775.4" cy="310.2" r="3.0" fill="#b30000"/>
<circle cx="781.3" cy="311.3" r="3.0" fill="#b30000"/>
<circle cx="792.2" cy="317.4" r="3.0" fill="#b30000"/>
<circle cx="804.2" cy="323.3" r="3.0" fill="#b30000"/>
<circle cx="809.7" cy="323.3" r="3.0" fill="#b30000"/>
<circle cx="793.3" cy="326.2" r="3.0" fill="#b30000"/>
<circle cx="774.5" cy="329.4" r="3.0" fill="#b30000"/>
<circle cx="764.4" cy="331.4" r="3.0" fill="#b30000"/>
<circle cx="803.3" cy="331.4" r="3.0" fill="#b30000"/>
<circle cx="817.4" cy="334.2" r="3.0" fill="#b30000"/>
<circle cx="819.7" cy="337.1" r="3.0" fill="#b30000"/>
<circle cx="819.3" cy="339.4" r="3.0" fill="#b30000"/>
<circle cx="770.5" cy="345.3" r="3.0" fill="#b30000"/>
<circle cx="810.5" cy="351.2" r="3.0" fill="#b30000"/>
<circle cx="812.2" cy="353.7" r="3.0" fill="#b30000"/>
<circle cx="767.4" cy="362.3" r="3.0" fill="#b30000"/>
<circle cx="789.3" cy="360.3" r="3.0" fill="#b30000"/>
<circle cx="797.3" cy="363.7" r="3.0" fill="#b30000"/>
<circle cx="809.7" cy="362.3" r="3.0" fill="#b30000"/>
<circle cx="831.1" cy="306.2" r="3.0" fill="#b30000"/>
<circle cx="834.0" cy="309.0" r="3.0" fill="#b30000"/>
<circle cx="867.2" cy="295.3" r="3.0" fill="#b30000"/>
<circle cx="882.1" cy="285.5" r="3.0" fill="#b30000"/>
<circle cx="838.0" cy="314.2" r="3.0" fill="#b30000"/>
<circle cx="843.5" cy="310.2" r="3.0" fill="#b30000"/>
<circle cx="847.4" cy="307.3" r="3.0" fill="#b30000"/>
<circle cx="854.4" cy="305.4" r="3.0" fill="#b30000"/>
<circle cx="865.3" cy="305.4" r="3.0" fill="#b30000"/>
<circle cx="872.3" cy="312.2" r="3.0" fill="#b30000"/>
<circle cx="879.8" cy="303.9" r="3.0" fill="#b30000"/>
<circle cx="891.8" cy="302.2" r="3.0" fill="#b30000"/>
<circle cx="893.5" cy="304.5" r="3.0" fill="#b30000"/>
<circle cx="889.5" cy="308.5" r="3.0" fill="#b30000"/>
<circle cx="885.5" cy="311.3" r="3.0" fill="#b30000"/>
<circle cx="883.2" cy="314.2" r="3.0" fill="#b30000"/>
<circle cx="890.4" cy="314.5" r="3.0" fill="#b30000"/>
<circle cx="896.4" cy="314.5" r="3.0" fill="#b30000"/>
<circle cx="882.4" cy="319.3" r="3.0" fill="#b30000"/>
<circle cx="894.4" cy="319.3" r="3.0" fill="#b30000"/>
<circle cx="852.3" cy="322.5" r="3.0" fill="#b30000"/>
<circle cx="847.4" cy="332.3" r="3.0" fill="#b30000"/>
<circle cx="890.4" cy="330.4" r="3.0" fill="#b30000"/>
<circle cx="873.5" cy="334.2" r="3.0" fill="#b30000"/>
<circle cx="897.5" cy="336.3" r="3.0" fill="#b30000"/>
<circle cx="867.2" cy="338.2" r="3.0" fill="#b30000"/>
<circle cx="837.4" cy="343.4" r="3.0" fill="#b30000"/>
<circle cx="865.3" cy="348.3" r="3.0" fill="#b30000"/>
<circle cx="865.3" cy="355.4" r="3.0" fill="#b30000"/>
<circle cx="811.3" cy="374.0" r="3.0" fill="#b30000"/>
<circle cx="786.5" cy="380.4" r="3.0" fill="#b30000"/>
<circle cx="810.5" cy="386.3" r="3.0" fill="#b30000"/>
<circle cx="775.4" cy="394.3" r="3.0" fill="#b30000"/>
<circle cx="813.4" cy="406.4" r="3.0" fill="#b30000"/>
<circle cx="814.3" cy="410.4" r="3.0" fill="#b30000"/>
<circle cx="765.3" cy="412.4" r="3.0" fill="#b30000"/>
<circle cx="771.6" cy="415.5" r="3.0" fill="#b30000"/>
<circle cx="771.6" cy="424.1" r="3.0" fill="#b30000"/>
<circle cx="773.5" cy="426.4" r="3.0" fill="#b30000"/>
<circle cx="815.4" cy="428.4" r="3.0" fill="#b30000"/>
<circle cx="836.3" cy="381.2" r="3.0" fill="#b30000"/>
<circle cx="840.3" cy="381.2" r="3.0" fill="#b30000"/>
<circle cx="838.2" cy="392.4" r="3.0" fill="#b30000"/>
<circle cx="848.3" cy="386.3" r="3.0" fill="#b30000"/>
<circle cx="857.2" cy="378.3" r="3.0" fill="#b30000"/>
<circle cx="851.5" cy="406.4" r="3.0" fill="#b30000"/>
<circle cx="836.3" cy="412.4" r="3.0" fill="#b30000"/>
<circle cx="892.4" cy="372.2" r="3.0" fill="#b30000"/>
<circle cx="889.3" cy="378.3" r="3.0" fill="#b30000"/>
<circle cx="888.4" cy="392.4" r="3.0" fill="#b30000"/>
<circle cx="894.4" cy="419.3" r="3.0" fill="#b30000"/>
<circle cx="872.9" cy="425.8" r="3.0" fill="#b30000"/>
<circle cx="897.5" cy="429.2" r="3.0" fill="#b30000"/>
<circle cx="882.4" cy="438.7" r="3.0" fill="#b30000"/>
<circle cx="823.4" cy="445.5" r="3.0" fill="#b30000"/>
<circle cx="812.4" cy="448.5" r="3.0" fill="#b30000"/>
<circle cx="827.3" cy="454.5" r="3.0" fill="#b30000"/>
<circle cx="827.3" cy="462.5" r="3.0" fill="#b30000"/>
<circle cx="787.3" cy="456.5" r="3.0" fill="#b30000"/>
<circle cx="770.3" cy="468.3" r="3.0" fill="#b30000"/>
<circle cx="791.3" cy="475.4" r="3.0" fill="#b30000"/>
<circle cx="819.4" cy="472.4" r="3.0" fill="#b30000"/>
<circle cx="838.5" cy="447.5" r="3.0" fill="#b30000"/>
<circle cx="856.3" cy="479.4" r="3.0" fill="#b30000"/>
<circle cx="876.4" cy="466.3" r="3.0" fill="#b30000"/>
<circle cx="900.4" cy="470.3" r="3.0" fill="#b30000"/>
<circle cx="826.4" cy="258.4" r="3.0" fill="#b30000"/>
<circle cx="836.6" cy="255.8" r="3.0" fill="#b30000"/>
<circle cx="901.4" cy="236.2" r="3.0" fill="#b30000"/>
<circle cx="901.6" cy="238.5" r="3.0" fill="#b30000"/>
<circle cx="901.6" cy="241.5" r="3.0" fill="#b30000"/>
<circle cx="901.2" cy="244.5" r="3.0" fill="#b30000"/>
<circle cx="900.8" cy="247.5" r="3.0" fill="#b30000"/>
<line x1="763.8" y1="485.3" x2="774.8" y2="485.3" stroke="#b30000" stroke-width="6" stroke-linecap="round"/>
<line x1="154.4" y1="124.9" x2="1020.0" y2="124.9" stroke="#000" stroke-width="2.0"/>
<line x1="763.5" y1="118.45" x2="901.3" y2="118.45" stroke="#7f7bbb" stroke-width="6.9" stroke-linecap="round"/>
</g>
<text transform="translate(1003.2,133.1) rotate(90) scale(0.82,1)" font-family="'DejaVu Sans', 'Liberation Sans', sans-serif" font-size="22.5" fill="#000" dominant-baseline="alphabetic">Now</text>
<rect x="154.4" y="111.9" width="865.60" height="391.00" fill="none" stroke="#000" stroke-width="2.2" stroke-linejoin="miter"/>
<line x1="144.20" y1="487.90" x2="154.4" y2="487.90" stroke="#000" stroke-width="2.2"/>
<text x="134.9" y="497.90" text-anchor="end" font-family="'DejaVu Sans', 'Liberation Sans', sans-serif" font-size="25" fill="#000">0</text>
<line x1="144.20" y1="428.37" x2="154.4" y2="428.37" stroke="#000" stroke-width="2.2"/>
<text x="134.9" y="438.37" text-anchor="end" font-family="'DejaVu Sans', 'Liberation Sans', sans-serif" font-size="25" fill="#000">5000</text>
<line x1="144.20" y1="368.83" x2="154.4" y2="368.83" stroke="#000" stroke-width="2.2"/>
<text x="134.9" y="378.83" text-anchor="end" font-family="'DejaVu Sans', 'Liberation Sans', sans-serif" font-size="25" fill="#000">10000</text>
<line x1="144.20" y1="309.29" x2="154.4" y2="309.29" stroke="#000" stroke-width="2.2"/>
<text x="134.9" y="319.29" text-anchor="end" font-family="'DejaVu Sans', 'Liberation Sans', sans-serif" font-size="25" fill="#000">15000</text>
<line x1="144.20" y1="249.76" x2="154.4" y2="249.76" stroke="#000" stroke-width="2.2"/>
<text x="134.9" y="259.76" text-anchor="end" font-family="'DejaVu Sans', 'Liberation Sans', sans-serif" font-size="25" fill="#000">20000</text>
<line x1="144.20" y1="190.23" x2="154.4" y2="190.23" stroke="#000" stroke-width="2.2"/>
<text x="134.9" y="200.23" text-anchor="end" font-family="'DejaVu Sans', 'Liberation Sans', sans-serif" font-size="25" fill="#000">25000</text>
<line x1="144.20" y1="130.69" x2="154.4" y2="130.69" stroke="#000" stroke-width="2.2"/>
<text x="134.9" y="140.69" text-anchor="end" font-family="'DejaVu Sans', 'Liberation Sans', sans-serif" font-size="25" fill="#000">30000</text>
<line x1="154.36" y1="502.9" x2="154.36" y2="512.62" stroke="#000" stroke-width="2.2"/>
<text x="154.36" y="540.8" text-anchor="middle" font-family="'DejaVu Sans', 'Liberation Sans', sans-serif" font-size="25" fill="#000">1996</text>
<line x1="168.14" y1="502.9" x2="168.14" y2="508.46" stroke="#000" stroke-width="1.67"/>
<line x1="182.08" y1="502.9" x2="182.08" y2="508.46" stroke="#000" stroke-width="1.67"/>
<line x1="195.78" y1="502.9" x2="195.78" y2="508.46" stroke="#000" stroke-width="1.67"/>
<line x1="209.72" y1="502.9" x2="209.72" y2="508.46" stroke="#000" stroke-width="1.67"/>
<line x1="223.43" y1="502.9" x2="223.43" y2="508.46" stroke="#000" stroke-width="1.67"/>
<line x1="237.36" y1="502.9" x2="237.36" y2="508.46" stroke="#000" stroke-width="1.67"/>
<line x1="251.07" y1="502.9" x2="251.07" y2="508.46" stroke="#000" stroke-width="1.67"/>
<line x1="265.00" y1="502.9" x2="265.00" y2="512.62" stroke="#000" stroke-width="2.2"/>
<text x="265.00" y="540.8" text-anchor="middle" font-family="'DejaVu Sans', 'Liberation Sans', sans-serif" font-size="25" fill="#000">2000</text>
<line x1="278.78" y1="502.9" x2="278.78" y2="508.46" stroke="#000" stroke-width="1.67"/>
<line x1="292.72" y1="502.9" x2="292.72" y2="508.46" stroke="#000" stroke-width="1.67"/>
<line x1="306.43" y1="502.9" x2="306.43" y2="508.46" stroke="#000" stroke-width="1.67"/>
<line x1="320.36" y1="502.9" x2="320.36" y2="508.46" stroke="#000" stroke-width="1.67"/>
<line x1="334.07" y1="502.9" x2="334.07" y2="508.46" stroke="#000" stroke-width="1.67"/>
<line x1="348.00" y1="502.9" x2="348.00" y2="508.46" stroke="#000" stroke-width="1.67"/>
<line x1="361.71" y1="502.9" x2="361.71" y2="508.46" stroke="#000" stroke-width="1.67"/>
<line x1="375.64" y1="502.9" x2="375.64" y2="512.62" stroke="#000" stroke-width="2.2"/>
<text x="375.64" y="540.8" text-anchor="middle" font-family="'DejaVu Sans', 'Liberation Sans', sans-serif" font-size="25" fill="#000">2004</text>
<line x1="389.43" y1="502.9" x2="389.43" y2="508.46" stroke="#000" stroke-width="1.67"/>
<line x1="403.36" y1="502.9" x2="403.36" y2="508.46" stroke="#000" stroke-width="1.67"/>
<line x1="417.07" y1="502.9" x2="417.07" y2="508.46" stroke="#000" stroke-width="1.67"/>
<line x1="431.00" y1="502.9" x2="431.00" y2="508.46" stroke="#000" stroke-width="1.67"/>
<line x1="444.71" y1="502.9" x2="444.71" y2="508.46" stroke="#000" stroke-width="1.67"/>
<line x1="458.64" y1="502.9" x2="458.64" y2="508.46" stroke="#000" stroke-width="1.67"/>
<line x1="472.35" y1="502.9" x2="472.35" y2="508.46" stroke="#000" stroke-width="1.67"/>
<line x1="486.28" y1="502.9" x2="486.28" y2="512.62" stroke="#000" stroke-width="2.2"/>
<text x="486.28" y="540.8" text-anchor="middle" font-family="'DejaVu Sans', 'Liberation Sans', sans-serif" font-size="25" fill="#000">2008</text>
<line x1="500.07" y1="502.9" x2="500.07" y2="508.46" stroke="#000" stroke-width="1.67"/>
<line x1="514.00" y1="502.9" x2="514.00" y2="508.46" stroke="#000" stroke-width="1.67"/>
<line x1="527.71" y1="502.9" x2="527.71" y2="508.46" stroke="#000" stroke-width="1.67"/>
<line x1="541.64" y1="502.9" x2="541.64" y2="508.46" stroke="#000" stroke-width="1.67"/>
<line x1="555.35" y1="502.9" x2="555.35" y2="508.46" stroke="#000" stroke-width="1.67"/>
<line x1="569.28" y1="502.9" x2="569.28" y2="508.46" stroke="#000" stroke-width="1.67"/>
<line x1="582.99" y1="502.9" x2="582.99" y2="508.46" stroke="#000" stroke-width="1.67"/>
<line x1="596.93" y1="502.9" x2="596.93" y2="512.62" stroke="#000" stroke-width="2.2"/>
<text x="596.93" y="540.8" text-anchor="middle" font-family="'DejaVu Sans', 'Liberation Sans', sans-serif" font-size="25" fill="#000">2012</text>
<line x1="610.71" y1="502.9" x2="610.71" y2="508.46" stroke="#000" stroke-width="1.67"/>
<line x1="624.64" y1="502.9" x2="624.64" y2="508.46" stroke="#000" stroke-width="1.67"/>
<line x1="638.35" y1="502.9" x2="638.35" y2="508.46" stroke="#000" stroke-width="1.67"/>
<line x1="652.28" y1="502.9" x2="652.28" y2="508.46" stroke="#000" stroke-width="1.67"/>
<line x1="665.99" y1="502.9" x2="665.99" y2="508.46" stroke="#000" stroke-width="1.67"/>
<line x1="679.93" y1="502.9" x2="679.93" y2="508.46" stroke="#000" stroke-width="1.67"/>
<line x1="693.63" y1="502.9" x2="693.63" y2="508.46" stroke="#000" stroke-width="1.67"/>
<line x1="707.57" y1="502.9" x2="707.57" y2="512.62" stroke="#000" stroke-width="2.2"/>
<text x="707.57" y="540.8" text-anchor="middle" font-family="'DejaVu Sans', 'Liberation Sans', sans-serif" font-size="25" fill="#000">2016</text>
<line x1="721.35" y1="502.9" x2="721.35" y2="508.46" stroke="#000" stroke-width="1.67"/>
<line x1="735.28" y1="502.9" x2="735.28" y2="508.46" stroke="#000" stroke-width="1.67"/>
<line x1="748.99" y1="502.9" x2="748.99" y2="508.46" stroke="#000" stroke-width="1.67"/>
<line x1="762.93" y1="502.9" x2="762.93" y2="508.46" stroke="#000" stroke-width="1.67"/>
<line x1="776.63" y1="502.9" x2="776.63" y2="508.46" stroke="#000" stroke-width="1.67"/>
<line x1="790.57" y1="502.9" x2="790.57" y2="508.46" stroke="#000" stroke-width="1.67"/>
<line x1="804.27" y1="502.9" x2="804.27" y2="508.46" stroke="#000" stroke-width="1.67"/>
<line x1="818.21" y1="502.9" x2="818.21" y2="512.62" stroke="#000" stroke-width="2.2"/>
<text x="818.21" y="540.8" text-anchor="middle" font-family="'DejaVu Sans', 'Liberation Sans', sans-serif" font-size="25" fill="#000">2020</text>
<line x1="831.99" y1="502.9" x2="831.99" y2="508.46" stroke="#000" stroke-width="1.67"/>
<line x1="845.93" y1="502.9" x2="845.93" y2="508.46" stroke="#000" stroke-width="1.67"/>
<line x1="859.63" y1="502.9" x2="859.63" y2="508.46" stroke="#000" stroke-width="1.67"/>
<line x1="873.57" y1="502.9" x2="873.57" y2="508.46" stroke="#000" stroke-width="1.67"/>
<line x1="887.27" y1="502.9" x2="887.27" y2="508.46" stroke="#000" stroke-width="1.67"/>
<line x1="901.21" y1="502.9" x2="901.21" y2="508.46" stroke="#000" stroke-width="1.67"/>
<line x1="914.92" y1="502.9" x2="914.92" y2="508.46" stroke="#000" stroke-width="1.67"/>
<line x1="928.85" y1="502.9" x2="928.85" y2="512.62" stroke="#000" stroke-width="2.2"/>
<text x="928.85" y="540.8" text-anchor="middle" font-family="'DejaVu Sans', 'Liberation Sans', sans-serif" font-size="25" fill="#000">2024</text>
<line x1="942.63" y1="502.9" x2="942.63" y2="508.46" stroke="#000" stroke-width="1.67"/>
<line x1="956.57" y1="502.9" x2="956.57" y2="508.46" stroke="#000" stroke-width="1.67"/>
<line x1="970.28" y1="502.9" x2="970.28" y2="508.46" stroke="#000" stroke-width="1.67"/>
<line x1="984.21" y1="502.9" x2="984.21" y2="508.46" stroke="#000" stroke-width="1.67"/>
<line x1="997.92" y1="502.9" x2="997.92" y2="508.46" stroke="#000" stroke-width="1.67"/>
<line x1="1011.85" y1="502.9" x2="1011.85" y2="508.46" stroke="#000" stroke-width="1.67"/>
<text x="587.9" y="575.8" text-anchor="middle" font-family="'DejaVu Sans', 'Liberation Sans', sans-serif" font-size="25" fill="#000">Year</text>
<text transform="translate(37.9,413.3) rotate(-90)" font-family="'DejaVu Sans', 'Liberation Sans', sans-serif" font-size="25" fill="#000">Max. nr. of Obs.</text>
<text x="586.8" y="43.2" text-anchor="middle" font-family="'DejaVu Sans', 'Liberation Sans', sans-serif" font-size="30.56" font-weight="bold" fill="#000">Maximum Number of GLONASS Observations</text>
<text x="587.7" y="82.5" text-anchor="middle" font-family="'DejaVu Sans', 'Liberation Sans', sans-serif" font-size="27.78" fill="#000">SANI00BGR - NOA data node</text>
<rect x="67.5" y="598.5" width="950" height="43.8" rx="4" ry="4" fill="#fff" stroke="#d4d4d4" stroke-width="2.78"/>
<circle cx="90.5" cy="618.4" r="4.1" fill="#b30000"/>
<text x="104.6" y="626.0" font-family="'DejaVu Sans', 'Liberation Sans', sans-serif" font-size="25" fill="#000">GLO</text>
<circle cx="333.5" cy="618.4" r="4.1" fill="#7f7fbf"/>
<text x="347.3" y="626.0" font-family="'DejaVu Sans', 'Liberation Sans', sans-serif" font-size="25" fill="#000">RINEX2</text>
<circle cx="616.6" cy="618.4" r="4.1" fill="#660066"/>
<text x="631.4" y="626.0" font-family="'DejaVu Sans', 'Liberation Sans', sans-serif" font-size="25" fill="#000">RINEX3</text>
<circle cx="900.4" cy="618.4" r="4.1" fill="#1e0018"/>
<text x="914.3" y="626.0" font-family="'DejaVu Sans', 'Liberation Sans', sans-serif" font-size="25" fill="#000">RINEX4</text>
<text x="67.0" y="675.0" font-family="'DejaVu Sans', 'Liberation Sans', sans-serif" font-size="19.44" font-style="italic" fill="#000">Sun Apr 19 12:08:54 2026</text>
<text x="1011.3" y="675.3" text-anchor="end" font-family="'DejaVu Sans', 'Liberation Sans', sans-serif" font-size="19.44" font-style="italic" fill="#000">©GNSS@ROB</text>
</svg>
</body></html>
